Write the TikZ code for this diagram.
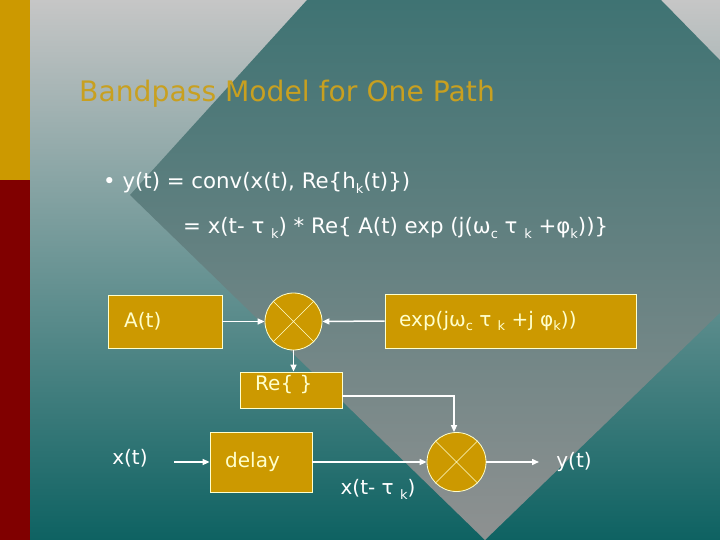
\documentclass[tikz,border=0pt]{standalone}
\usepackage{fontspec}
\setmainfont{DejaVu Sans}
\usetikzlibrary{arrows.meta}
\definecolor{gold}{HTML}{CC9900}
\definecolor{dred}{HTML}{800000}
\definecolor{ltg}{HTML}{C6C6C6}
\definecolor{dteal}{HTML}{0E6262}
\definecolor{mteal}{HTML}{3F7373}
\definecolor{mgray}{HTML}{8E9191}
\definecolor{titlec}{HTML}{C8A020}
\definecolor{pale}{HTML}{FFFFCC}
\newcommand\lowr[1]{\raisebox{-0.45ex}{\fontsize{13}{13}\selectfont #1}}
\begin{document}
\begin{tikzpicture}[x=1pt,y=-1pt,
  box/.style={draw=pale,line width=0.8pt,fill=gold,inner sep=0pt},
  mul/.style={circle,draw=pale,line width=0.8pt,fill=gold,minimum size=57pt,inner sep=0pt},
  lbl/.style={text=pale,font=\fontsize{20}{22}\selectfont,inner sep=0pt},
  wt/.style={text=white,font=\fontsize{20}{22}\selectfont,inner sep=0pt},
  big/.style={font=\fontsize{21.3}{23}\selectfont},
  conn/.style={draw=white,line width=1.5pt,-{Triangle[length=7pt,width=6pt]}}]
\useasboundingbox (0,0) rectangle (720,540);
\shade[top color=ltg,bottom color=dteal] (0,0) rectangle (720,540);
\shade[top color=mteal,bottom color=mgray] (307,0) -- (661,0) -- (847,190) -- (485,540) -- (130,195) -- cycle;
\fill[gold] (0,0) rectangle (30,180);
\fill[dred] (0,180) rectangle (30,540);
% title
\node[anchor=west,text=titlec,font=\fontsize{28.2}{30}\selectfont,inner sep=0pt] (title) at (79,94) {Bandpass Model for One Path};
% bullet text
\node[wt,big,anchor=west] (l1) at (103,183) {\textbullet\ y(t) = conv(x(t), Re\{h\lowr{k}(t)\})};
\node[wt,big,anchor=west] (l2) at (183,228) {= x(t- τ \lowr{k}) * Re\{ A(t) exp (j(ω\lowr{c} τ \lowr{k} +φ\lowr{k}))\}};
% boxes
\node[box,minimum width=114pt,minimum height=53pt] (A) at (165,321.5) {};
\node[lbl,anchor=west] (At) at (124,321) {A(t)};
\node[box,minimum width=251pt,minimum height=54pt] (E) at (510.5,321) {};
\node[lbl,anchor=west] (Et) at (399,321) {exp(jω\lowr{c} τ \lowr{k} +j φ\lowr{k}))};
\node[mul] (m1) at (293.5,321.5) {};
\draw[pale,line width=0.5pt] (m1.north east) -- (m1.south west) (m1.north west) -- (m1.south east);
\node[box,minimum width=102pt,minimum height=36pt] (R) at (291,390) {};
\node[lbl,anchor=west] (Rt) at (255,385) {Re\{ \}};
\node[box,minimum width=102pt,minimum height=60pt] (D) at (261,462) {};
\node[lbl,anchor=west] (Dt) at (225,462) {delay};
\node[mul,minimum size=59pt] (m2) at (456.5,462) {};
\draw[pale,line width=0.5pt] (m2.north east) -- (m2.south west) (m2.north west) -- (m2.south east);
\node[wt] (x) at (130,458) {x(t)};
\node[wt] (y) at (574,462) {y(t)};
\node[wt] (xd) at (378,489) {x(t- τ \lowr{k})};
\coordinate (xe) at (174,462);
\coordinate (ys) at (539,462);
\coordinate (bend) at (454,396);
% connectors
\draw[conn] (A.east) -- (m1.west);
\draw[conn] (E.west) -- (m1.east);
\draw[conn] (m1.south) -- (m1.south |- R.north);
\draw[conn] (R.east |- bend) -- (bend) -- (bend |- m2.north);
\draw[conn] (xe) -- (D.west);
\draw[conn] (D.east) -- (m2.west);
\draw[conn] (m2.east) -- (ys);
\end{tikzpicture}
\end{document}
